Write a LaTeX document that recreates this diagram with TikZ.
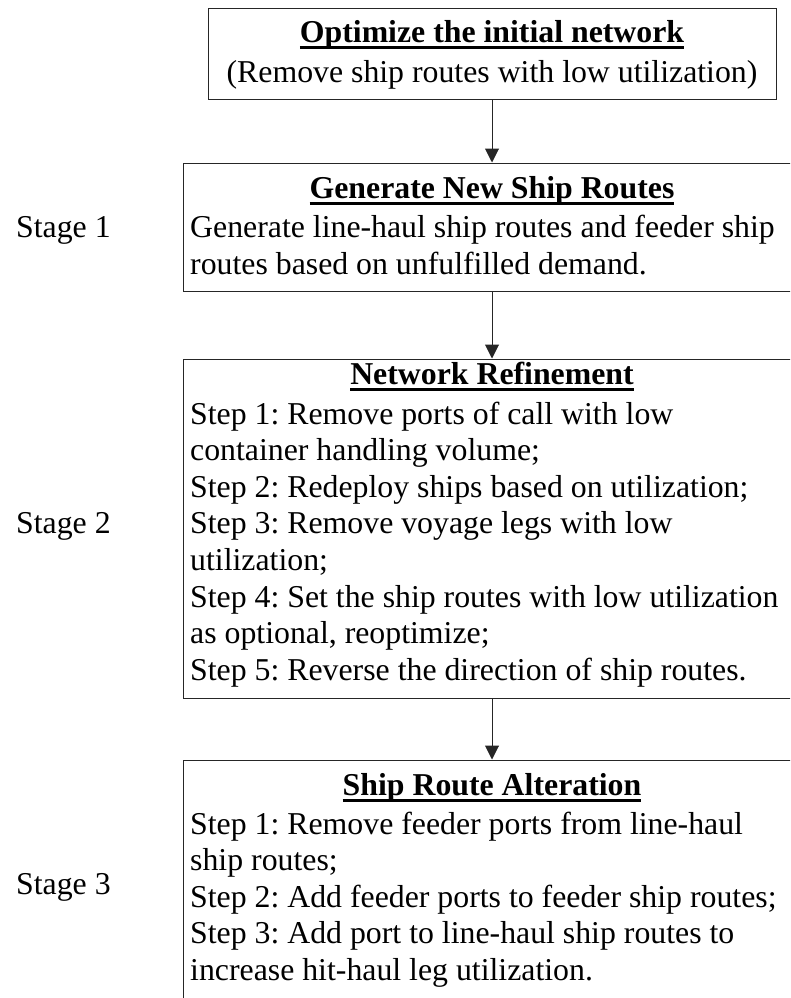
\documentclass[tikz,border=0pt]{standalone}
\usepackage{fontspec}
\setmainfont{Liberation Serif}
\usetikzlibrary{arrows.meta}
\newsavebox\ulbox
\newcommand\myul[1]{\sbox\ulbox{#1}\rlap{\vrule height -3.5pt depth 6.5pt width \wd\ulbox}\usebox\ulbox}
\frenchspacing
\begin{document}
\begin{tikzpicture}[x=1pt,y=-1pt,
  box/.style={draw=black!85, line width=1pt, rectangle, inner sep=0pt},
  txt/.style={inner sep=0pt, anchor=base west, font=\fontsize{31.8}{36}\selectfont\frenchspacing},
  ctxt/.style={inner sep=0pt, anchor=base, font=\fontsize{31.8}{36}\selectfont\frenchspacing},
  ttl/.style={inner sep=0pt, anchor=base, font=\fontsize{31.8}{36}\selectfont\bfseries\frenchspacing},
  arr/.style={draw=black!85, line width=1pt, -{Triangle[width=14pt,length=14pt]}}]
\useasboundingbox (0,0) rectangle (790,998);
\clip (0,0) rectangle (790,998);
% boxes
\node[box, minimum width=568pt, minimum height=90pt] (b1) at (492,54) {};
\node[box, minimum width=618pt, minimum height=128pt] (b2) at (492,227) {};
\node[box, minimum width=618pt, minimum height=339pt] (b3) at (492,528.5) {};
\node[box, minimum width=618pt, minimum height=248pt] (b4) at (492,884) {};
% arrows
\draw[arr] (b1.south) -- (b2.north);
\draw[arr] (b2.south) -- (b3.north);
\draw[arr] (b3.south) -- (b4.north);
% box 1
\node[ttl] (t1) at (492,43) {\myul{Optimize the initial network}};
\node[ctxt] (t1a) at (492,82) {(Remove ship routes with low utilization)};
% box 2
\node[ttl] (t2) at (492,198) {\myul{Generate New Ship Routes}};
\node[txt] (t2a) at (190,237) {Generate line-haul ship routes and feeder ship};
\node[txt] (t2b) at (190,274) {routes based on unfulfilled demand.};
% box 3
\node[ttl] (t3) at (492,384) {\myul{Network Refinement}};
\node[txt] (t3a) at (190,424) {Step 1: Remove ports of call with low};
\node[txt] (t3b) at (190,460.6) {container handling volume;};
\node[txt] (t3c) at (190,497.2) {Step 2: Redeploy ships based on utilization;};
\node[txt] (t3d) at (190,533.8) {Step 3: Remove voyage legs with low};
\node[txt] (t3e) at (190,570.4) {utilization;};
\node[txt] (t3f) at (190,607) {Step 4: Set the ship routes with low utilization};
\node[txt] (t3g) at (190,643.6) {as optional, reoptimize;};
\node[txt] (t3h) at (190,680.2) {Step 5: Reverse the direction of ship routes.};
% box 4
\node[ttl] (t4) at (492,795) {\myul{Ship Route Alteration}};
\node[txt] (t4a) at (190,834) {Step 1: Remove feeder ports from line-haul};
\node[txt] (t4b) at (190,870.5) {ship routes;};
\node[txt] (t4c) at (190,907) {Step 2: Add feeder ports to feeder ship routes;};
\node[txt] (t4d) at (190,943.5) {Step 3: Add port to line-haul ship routes to};
\node[txt] (t4e) at (190,980) {increase hit-haul leg utilization.};
% stage labels
\node[txt] (s1) at (16,237) {Stage 1};
\node[txt] (s2) at (16,533) {Stage 2};
\node[txt] (s3) at (16,894) {Stage 3};
\end{tikzpicture}
\end{document}
